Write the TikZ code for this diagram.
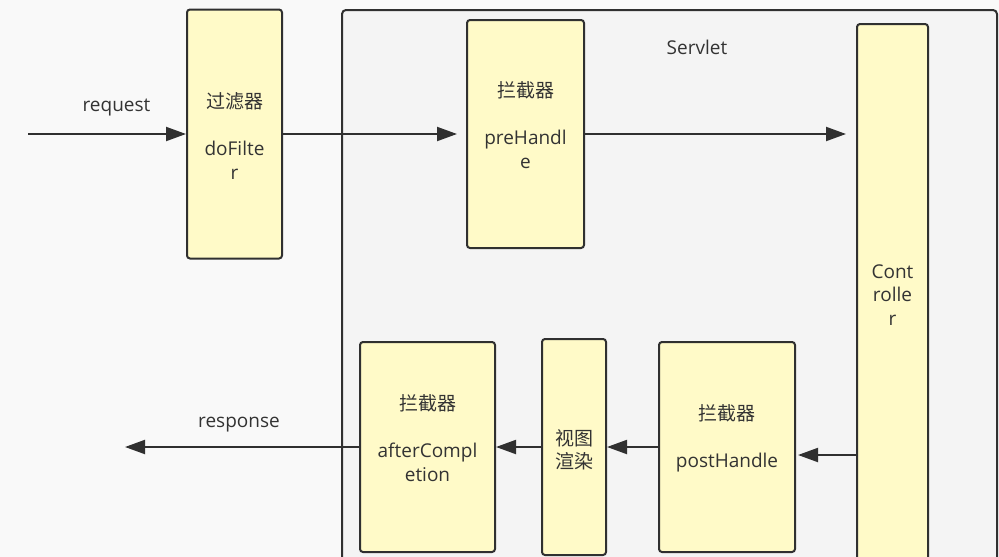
\documentclass[tikz,border=0pt]{standalone}
\usepackage{fontspec}
\setmainfont{Open Sans}
\newfontfamily\cjk{Noto Sans CJK SC}
\usepackage{xcolor}
\usetikzlibrary{arrows.meta, positioning}

\definecolor{boxfill}{HTML}{FFFAC8}
\definecolor{linec}{HTML}{303030}
\definecolor{pagebg}{HTML}{F9F9F9}
\definecolor{servletbg}{HTML}{F4F4F4}
\definecolor{txtc}{HTML}{333333}

\tikzset{
  box/.style={draw=linec, fill=boxfill, line width=2pt, rounded corners=3pt, inner sep=0pt},
  flow/.style={draw=linec, line width=2pt, -{Triangle[length=20pt,width=14pt]}},
  lbl/.style={text=txtc, align=center, inner sep=0pt, font=\fontsize{19}{23.5}\selectfont},
}

\begin{document}
\begin{tikzpicture}[x=1pt,y=-1pt]
    \useasboundingbox (0,0) rectangle (999,557);
    \clip (0,0) rectangle (999,557);
    \fill[pagebg] (0,0) rectangle (999,557);
    %servlet container
    \draw[draw=linec, fill=servletbg, line width=2pt, rounded corners=4pt] (342,10) rectangle (997,585);
    \node[lbl] (servlet) at (697,47) {Servlet};
    %
    \node[box, minimum width=95pt, minimum height=249pt] (filter) at (234.5,134) {};
    \node[box, minimum width=117pt, minimum height=228pt] (prehandle) at (525.5,134) {};
    \node[box, minimum width=71pt, minimum height=560pt] (controller) at (892.5,304) {};
    \node[box, minimum width=135pt, minimum height=210pt] (aftercomp) at (427.5,447) {};
    \node[box, minimum width=64pt, minimum height=216pt] (render) at (574,447) {};
    \node[box, minimum width=136pt, minimum height=210pt] (posthandle) at (727,447) {};
    %
    \node[lbl] (filtertxt) at (234.5,136) {{\cjk 过滤器}\\[23.5pt]doFilte\\r};
    \node[lbl] (pretxt) at (525.5,125) {{\cjk 拦截器}\\[23.5pt]preHandl\\e};
    \node[lbl] (ctrltxt) at (892.5,295) {Cont\\rolle\\r};
    \node[lbl] (aftertxt) at (427.5,438) {{\cjk 拦截器}\\[23.5pt]afterCompl\\etion};
    \node[lbl] (rendertxt) at (574,450) {\cjk 视图\\\cjk 渲染};
    \node[lbl] (posttxt) at (727,438) {{\cjk 拦截器}\\[23.5pt]postHandle};
    %
    \coordinate (reqin) at (28,134);
    \coordinate (respout) at (125,447);
    \coordinate (c2p) at (857,455);
    \node[lbl] (reqlbl) at (116.5,108) {request};
    \node[lbl] (resplbl) at (239,425) {response};
    %
    \draw[flow] (reqin) -- (filter.west);
    \draw[flow, shorten >=9pt] (filter.east) -- (prehandle.west);
    \draw[flow, shorten >=10pt] (prehandle.east) -- (prehandle.east -| controller.west);
    \draw[flow, shorten >=2pt] (c2p) -- (c2p -| posthandle.east);
    \draw[flow] (posthandle.west) -- (render.east);
    \draw[flow] (render.west) -- (aftercomp.east);
    \draw[flow] (aftercomp.west) -- (respout);
\end{tikzpicture}
\end{document}
